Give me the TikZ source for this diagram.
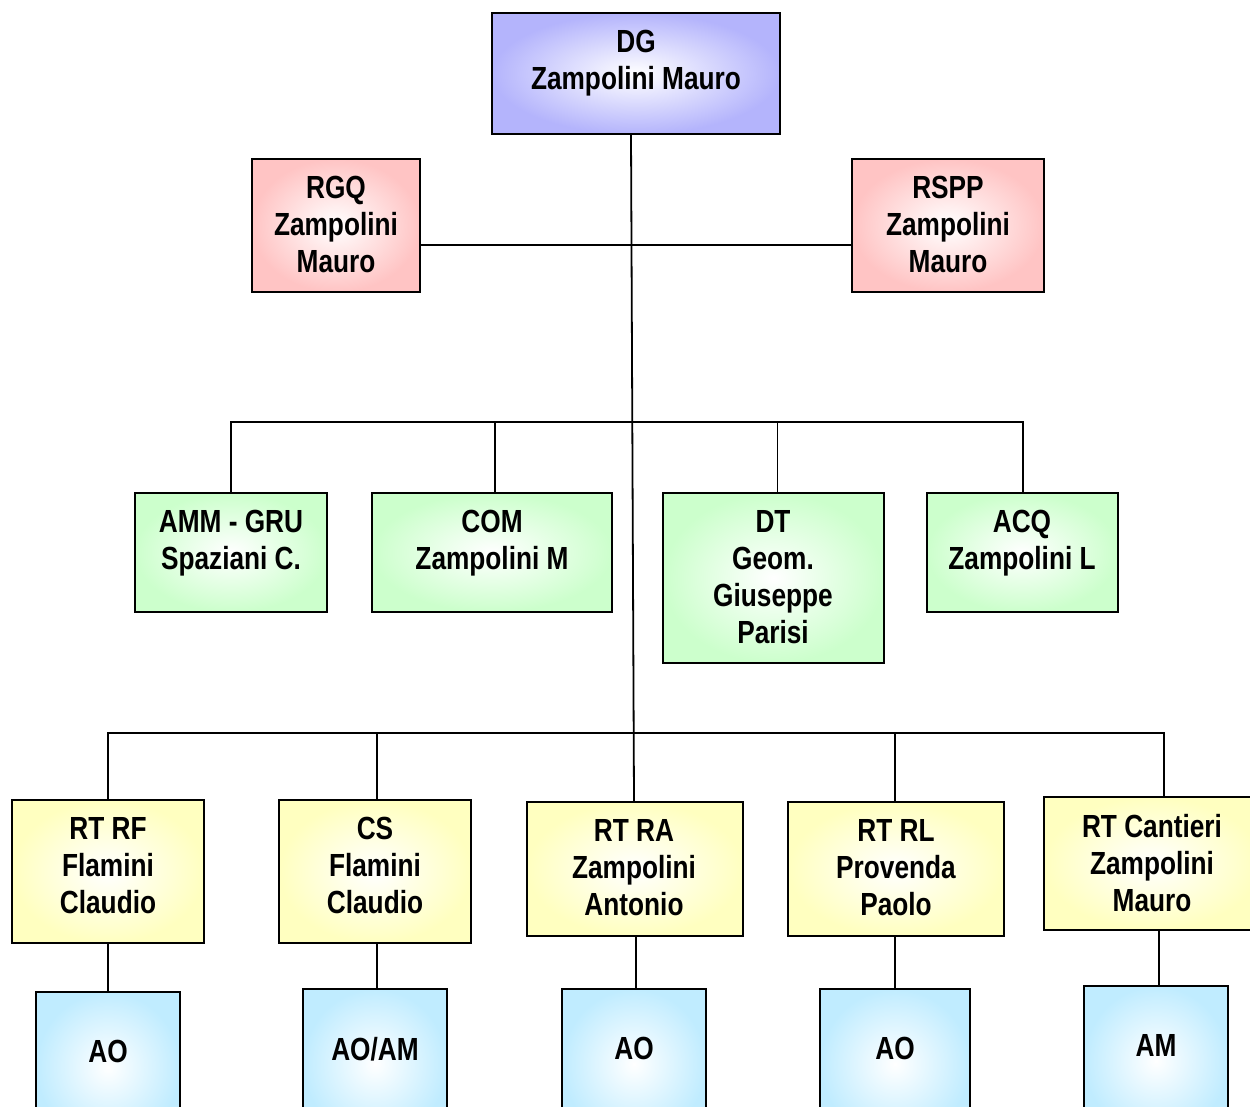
\documentclass[tikz,border=0pt]{standalone}
\usepackage{fontspec}
\setmainfont{Liberation Sans}[FakeStretch=0.82]
\begin{document}
\begin{tikzpicture}[x=1pt,y=-1pt,
  box/.style={draw=black, line width=2pt, rectangle, inner sep=0pt, inner color=white, outer color=#1},
  lbl/.style={anchor=north, inner sep=0pt, align=center, font=\fontsize{32}{37}\selectfont\bfseries},
  wire/.style={draw=black, line width=1.8pt}]
\definecolor{cblue}{HTML}{B4B4FC}
\definecolor{cpink}{HTML}{FFC4C4}
\definecolor{cgreen}{HTML}{CCFFCC}
\definecolor{cyellow}{HTML}{FFFFC0}
\definecolor{ccyan}{HTML}{C0ECFF}
\clip (0,0) rectangle (1250,1106);
\fill[white] (0,0) rectangle (1250,1106);

% boxes
\node[box=cblue, minimum width=288pt, minimum height=121pt] (dg) at (636,73.5) {};
\node[box=cpink, minimum width=168pt, minimum height=133pt] (rgq) at (336,225.5) {};
\node[box=cpink, minimum width=192pt, minimum height=133pt] (rspp) at (948,225.5) {};
\node[box=cgreen, minimum width=192pt, minimum height=119pt] (amm) at (231,552.5) {};
\node[box=cgreen, minimum width=240pt, minimum height=119pt] (com) at (492,552.5) {};
\node[box=cgreen, minimum width=221pt, minimum height=170pt] (dt) at (773.5,578) {};
\node[box=cgreen, minimum width=191pt, minimum height=119pt] (acq) at (1022.5,552.5) {};
\node[box=cyellow, minimum width=192pt, minimum height=143pt] (rtrf) at (108,871.5) {};
\node[box=cyellow, minimum width=192pt, minimum height=143pt] (cs) at (375,871.5) {};
\node[box=cyellow, minimum width=216pt, minimum height=134pt] (rtra) at (635,869) {};
\node[box=cyellow, minimum width=216pt, minimum height=134pt] (rtrl) at (896,869) {};
\node[box=cyellow, minimum width=216pt, minimum height=133pt] (rtc) at (1152,863.5) {};
\node[box=ccyan, minimum width=144pt, minimum height=150pt] (ao1) at (108,1067) {};
\node[box=ccyan, minimum width=144pt, minimum height=150pt] (aoam) at (375,1064) {};
\node[box=ccyan, minimum width=144pt, minimum height=150pt] (ao3) at (634,1064) {};
\node[box=ccyan, minimum width=150pt, minimum height=150pt] (ao4) at (895,1064) {};
\node[box=ccyan, minimum width=144pt, minimum height=150pt] (am) at (1156,1061) {};

% labels
\node[lbl] (dgT) at (636,30) {DG\\Zampolini Mauro};
\node[lbl] (rgqT) at (336,176) {RGQ\\Zampolini\\Mauro};
\node[lbl] (rsppT) at (948,176) {RSPP\\Zampolini\\Mauro};
\node[lbl] (ammT) at (231,510) {AMM - GRU\\Spaziani C.};
\node[lbl] (comT) at (492,510) {COM\\Zampolini M};
\node[lbl] (dtT) at (773,510) {DT\\Geom.\\Giuseppe\\Parisi};
\node[lbl] (acqT) at (1022,510) {ACQ\\Zampolini L};
\node[lbl] (rtrfT) at (108,817) {RT RF\\Flamini\\Claudio};
\node[lbl] (csT) at (375,817) {CS\\Flamini\\Claudio};
\node[lbl] (rtraT) at (634,819) {RT RA\\Zampolini\\Antonio};
\node[lbl] (rtrlT) at (896,819) {RT RL\\Provenda\\Paolo};
\node[lbl] (rtcT) at (1152,814) {RT Cantieri\\Zampolini\\Mauro};
\node[lbl] (ao1T) at (108,1040) {AO};
\node[lbl] (aoamT) at (375,1037) {AO/AM};
\node[lbl] (ao3T) at (634,1037) {AO};
\node[lbl] (ao4T) at (895,1037) {AO};
\node[lbl] (amT) at (1156,1034) {AM};

% connectors
\coordinate (bus2) at (632,422);
\coordinate (bus3) at (634,733);
\draw[wire] ([xshift=-5pt]dg.south) -- ([xshift=-1pt]rtra.north);
\draw[wire] ([yshift=-19.5pt]rgq.east) -- ([yshift=-19.5pt]rspp.west);
\draw[wire] (amm.north) |- (bus2) -| ([xshift=0.5pt]acq.north);
\draw[wire] ([xshift=3pt]com.north) -- ([xshift=3pt]com.north |- bus2);
\draw[wire] ([xshift=4pt]dt.north) -- ([xshift=4pt]dt.north |- bus2);
\draw[wire] (rtrf.north) |- (bus3) -| ([xshift=12pt]rtc.north);
\draw[wire] ([xshift=2pt]cs.north) -- ([xshift=2pt]cs.north |- bus3);
\draw[wire] ([xshift=-1pt]rtrl.north) -- ([xshift=-1pt]rtrl.north |- bus3);
\draw[wire] (ao1.north |- rtrf.south) -- (ao1.north);
\draw[wire] ([xshift=2pt]aoam.north |- cs.south) -- ([xshift=2pt]aoam.north);
\draw[wire] ([xshift=2pt]ao3.north |- rtra.south) -- ([xshift=2pt]ao3.north);
\draw[wire] (ao4.north |- rtrl.south) -- (ao4.north);
\draw[wire] ([xshift=3pt]am.north |- rtc.south) -- ([xshift=3pt]am.north);
\end{tikzpicture}
\end{document}
